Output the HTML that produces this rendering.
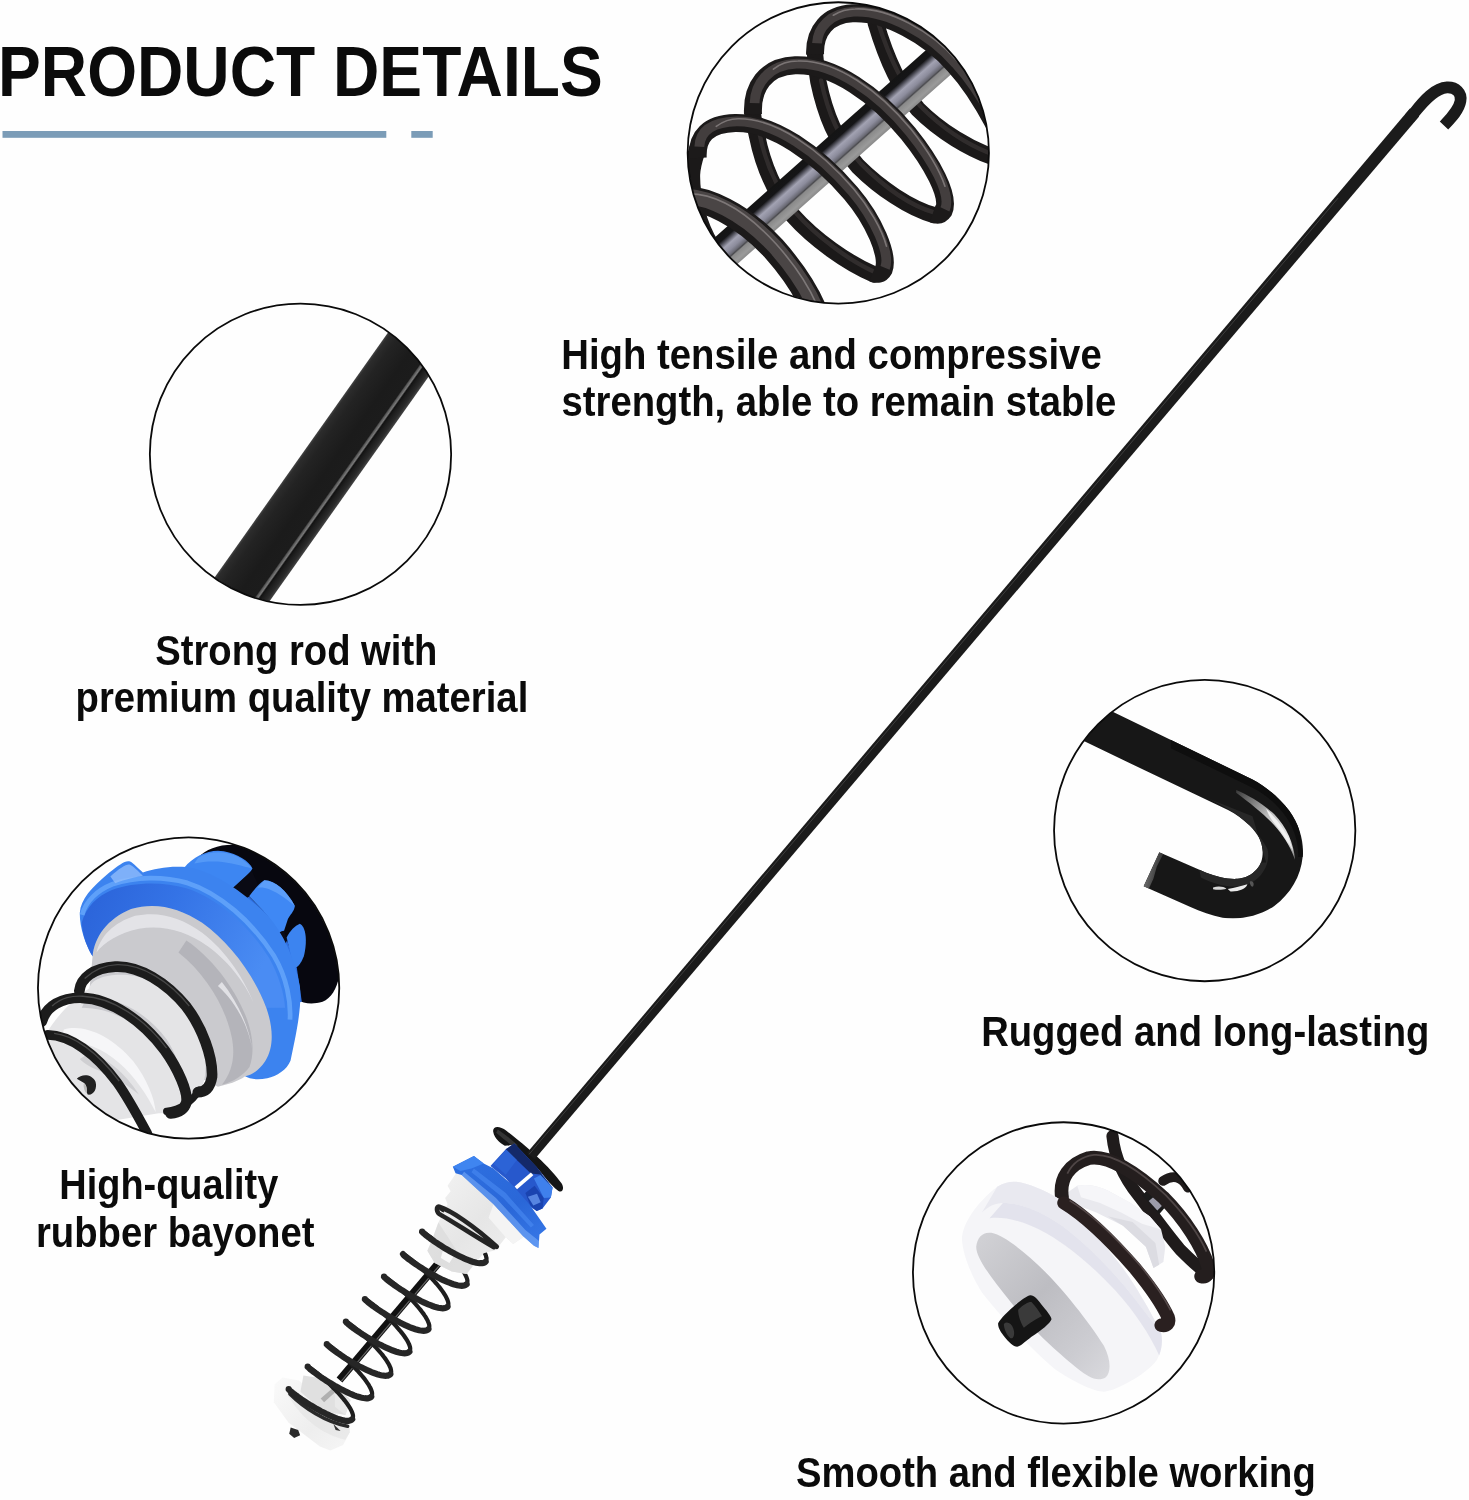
<!DOCTYPE html>
<html><head><meta charset="utf-8"><title>Product Details</title>
<style>
html,body{margin:0;padding:0;background:#fff}
svg{display:block}
text{font-family:"Liberation Sans",sans-serif;font-weight:bold;fill:#0b0b0b}
</style></head><body>
<svg width="1469" height="1500" viewBox="0 0 1469 1500">
<defs><clipPath id="c1clip"><circle cx="838.3" cy="152.9" r="150.4"/></clipPath><clipPath id="c2clip"><circle cx="300.5" cy="454.3" r="150.4"/></clipPath><clipPath id="c3clip"><circle cx="188.6" cy="988.0" r="150.4"/></clipPath><clipPath id="c4clip"><circle cx="1204.7" cy="830.6" r="150.4"/></clipPath><clipPath id="c5clip"><circle cx="1063.6" cy="1272.9" r="150.4"/></clipPath>

<linearGradient id="gWhiteCone" x1="0" y1="0" x2="1" y2="1"><stop offset="0" stop-color="#f4f4f4"/><stop offset="0.5" stop-color="#e6e6e6"/><stop offset="1" stop-color="#f0f0f0"/></linearGradient>
<linearGradient id="gFlange" x1="0.2" y1="0" x2="0.8" y2="1"><stop offset="0" stop-color="#2d6fe0"/><stop offset="0.6" stop-color="#2a67d8"/><stop offset="1" stop-color="#3576e6"/></linearGradient>
<linearGradient id="gCap" x1="0" y1="0" x2="1" y2="1"><stop offset="0" stop-color="#fafafa"/><stop offset="0.6" stop-color="#eeeeee"/><stop offset="1" stop-color="#f6f6f6"/></linearGradient>
<linearGradient id="gRodBig" x1="0" y1="0" x2="0" y2="1">
<stop offset="0" stop-color="#444"/><stop offset="0.04" stop-color="#2c2c2c"/><stop offset="0.18" stop-color="#232323"/><stop offset="0.5" stop-color="#1b1b1b"/><stop offset="0.755" stop-color="#1c1c1c"/><stop offset="0.775" stop-color="#565656"/><stop offset="0.805" stop-color="#7a7a7a"/><stop offset="0.83" stop-color="#121212"/><stop offset="0.87" stop-color="#1c1c1c"/><stop offset="0.95" stop-color="#2b2b2b"/><stop offset="1" stop-color="#444"/>
</linearGradient>
<linearGradient id="gHookHL" x1="0" y1="0" x2="1" y2="1"><stop offset="0" stop-color="#3a3a3a"/><stop offset="0.45" stop-color="#bdbdbd"/><stop offset="0.8" stop-color="#e8e8e8"/><stop offset="1" stop-color="#777"/></linearGradient>
<linearGradient id="gHookEnd" x1="0" y1="0" x2="1" y2="0.4"><stop offset="0" stop-color="#8a8a8a"/><stop offset="1" stop-color="#2a2a2a"/></linearGradient>
<linearGradient id="gRodC1" x1="0" y1="0" x2="0" y2="1"><stop offset="0" stop-color="#141414"/><stop offset="0.2" stop-color="#151517"/><stop offset="0.28" stop-color="#4e4e58"/><stop offset="0.4" stop-color="#a2a2b2"/><stop offset="0.55" stop-color="#8c8c9c"/><stop offset="0.66" stop-color="#6a6a74"/><stop offset="0.7" stop-color="#4a4a4e"/><stop offset="0.74" stop-color="#8a8a8a"/><stop offset="0.9" stop-color="#9a9a9a"/><stop offset="1" stop-color="#8a8a8a"/></linearGradient>
<linearGradient id="gCapIn" x1="0" y1="0" x2="1" y2="1"><stop offset="0" stop-color="#d2d2d6"/><stop offset="0.45" stop-color="#bdbdc2"/><stop offset="0.8" stop-color="#cdcdd2"/><stop offset="1" stop-color="#dadade"/></linearGradient>
<linearGradient id="gFlangeIn" x1="0" y1="0" x2="1" y2="0.3"><stop offset="0" stop-color="#2a62d8"/><stop offset="0.45" stop-color="#3473e6"/><stop offset="1" stop-color="#4a8cf3"/></linearGradient>
</defs>
<rect width="1469" height="1500" fill="#fefefe"/>
<rect x="2.5" y="131" width="383.8" height="6.8" fill="#7b9cb7"/>
<rect x="411.3" y="131" width="21.4" height="6.8" fill="#7b9cb7"/>
<g transform="translate(260,1260) scale(0.149762)">
<!-- white end cap -->
<path d="M150,785 L260,805 L600,1100 L600,1150 L555,1235 L470,1272 L400,1245 L190,1085 L92,950 L98,830 Z" fill="url(#gCap)"/>
<path d="M195,840 C300,980 450,1070 590,1080 L600,1150 L570,1200 C420,1170 260,1050 175,880 Z" fill="#dcdcdc" opacity="0.4"/>
<!-- inner grey block -->
<path d="M290,772 L470,800 L605,935 L570,1035 L420,1010 L270,880 Z" fill="#e0e0e0"/>
<path d="M405,925 L478,862 L500,885 L428,950 Z" fill="#b0b0b0"/>
<path d="M478,862 L600,935 L570,1035 L500,980 L500,885 Z" fill="#e9e9e9"/>
<!-- pin -->
<path d="M205,1118 L255,1135 L268,1170 L228,1188 L195,1160 Z" fill="#2b2b2b"/>
<path d="M490,1095 L538,1142 L505,1135 Z" fill="#333"/>
<!-- closed end coil second strand -->
<path d="M200,895 C290,985 440,1085 585,1110" fill="none" stroke="#2a2a2a" stroke-width="24" stroke-linecap="round"/>
</g>
<path d="M339.5,1380.0 L487.7,1205.0" stroke="#111" stroke-width="7.5" fill="none"/>
<path d="M341.2,1381.4 L489.4,1206.4" stroke="#666" stroke-width="1.2" fill="none"/>
<g fill="none" stroke="#1e1e1e" stroke-width="4.2" stroke-linecap="round"><path d="M352.2,1419.2 L352.6,1418.5 L352.9,1417.7 L353.0,1416.8 L353.0,1415.7 L352.8,1414.5 L352.4,1413.2 L351.9,1411.8 L351.2,1410.4 L350.4,1408.8 L349.4,1407.1 L348.3,1405.4 L347.0,1403.6 L345.7,1401.8 L344.2,1399.9 L342.7,1398.0 L341.0,1396.1 L339.3,1394.2 L337.5,1392.2 L335.7,1390.3 L333.8,1388.4 L331.9,1386.5 L330.0,1384.6 L328.1,1382.8 L326.3,1381.1 L324.4,1379.4 L322.6,1377.8 L320.8,1376.3 L319.1,1374.8 L317.5,1373.5 L316.0,1372.3 L314.6,1371.1 L313.3,1370.1 L312.1,1369.3 L311.0,1368.5 L310.1,1367.9 L309.3,1367.4 L308.7,1367.0 L308.2,1366.7 L307.9,1366.6 L307.7,1366.6"/><path d="M371.2,1396.7 L371.7,1396.0 L372.0,1395.2 L372.1,1394.2 L372.1,1393.2 L371.9,1392.0 L371.5,1390.7 L371.0,1389.3 L370.3,1387.8 L369.4,1386.3 L368.5,1384.6 L367.3,1382.9 L366.1,1381.1 L364.8,1379.3 L363.3,1377.4 L361.7,1375.5 L360.1,1373.6 L358.4,1371.6 L356.6,1369.7 L354.8,1367.8 L352.9,1365.8 L351.0,1364.0 L349.1,1362.1 L347.2,1360.3 L345.3,1358.6 L343.5,1356.9 L341.6,1355.3 L339.9,1353.7 L338.2,1352.3 L336.6,1351.0 L335.1,1349.8 L333.6,1348.6 L332.3,1347.6 L331.1,1346.7 L330.1,1346.0 L329.1,1345.3 L328.4,1344.8 L327.7,1344.5 L327.3,1344.2 L326.9,1344.1 L326.8,1344.1"/><path d="M390.3,1374.2 L390.8,1373.5 L391.1,1372.7 L391.2,1371.7 L391.1,1370.7 L390.9,1369.5 L390.6,1368.2 L390.0,1366.8 L389.3,1365.3 L388.5,1363.8 L387.5,1362.1 L386.4,1360.4 L385.2,1358.6 L383.8,1356.8 L382.4,1354.9 L380.8,1353.0 L379.2,1351.1 L377.4,1349.1 L375.7,1347.2 L373.8,1345.3 L372.0,1343.3 L370.1,1341.4 L368.2,1339.6 L366.3,1337.8 L364.4,1336.0 L362.5,1334.4 L360.7,1332.8 L359.0,1331.2 L357.3,1329.8 L355.6,1328.5 L354.1,1327.2 L352.7,1326.1 L351.4,1325.1 L350.2,1324.2 L349.1,1323.5 L348.2,1322.8 L347.4,1322.3 L346.8,1322.0 L346.3,1321.7 L346.0,1321.6 L345.9,1321.6"/><path d="M409.4,1351.7 L409.8,1351.0 L410.1,1350.2 L410.2,1349.2 L410.2,1348.2 L410.0,1347.0 L409.6,1345.7 L409.1,1344.3 L408.4,1342.8 L407.6,1341.2 L406.6,1339.6 L405.5,1337.9 L404.2,1336.1 L402.9,1334.3 L401.4,1332.4 L399.9,1330.5 L398.2,1328.6 L396.5,1326.6 L394.7,1324.7 L392.9,1322.7 L391.0,1320.8 L389.1,1318.9 L387.2,1317.1 L385.3,1315.3 L383.4,1313.5 L381.6,1311.9 L379.8,1310.2 L378.0,1308.7 L376.3,1307.3 L374.7,1306.0 L373.2,1304.7 L371.8,1303.6 L370.4,1302.6 L369.3,1301.7 L368.2,1301.0 L367.3,1300.3 L366.5,1299.8 L365.9,1299.4 L365.4,1299.2 L365.1,1299.1 L364.9,1299.1"/><path d="M428.4,1329.2 L428.9,1328.5 L429.2,1327.7 L429.3,1326.7 L429.3,1325.6 L429.1,1324.5 L428.7,1323.2 L428.1,1321.8 L427.5,1320.3 L426.6,1318.7 L425.7,1317.1 L424.5,1315.4 L423.3,1313.6 L421.9,1311.8 L420.5,1309.9 L418.9,1308.0 L417.3,1306.0 L415.6,1304.1 L413.8,1302.2 L412.0,1300.2 L410.1,1298.3 L408.2,1296.4 L406.3,1294.6 L404.4,1292.8 L402.5,1291.0 L400.7,1289.3 L398.8,1287.7 L397.1,1286.2 L395.4,1284.8 L393.8,1283.4 L392.2,1282.2 L390.8,1281.1 L389.5,1280.1 L388.3,1279.2 L387.3,1278.4 L386.3,1277.8 L385.6,1277.3 L384.9,1276.9 L384.4,1276.7 L384.1,1276.6 L384.0,1276.6"/><path d="M447.5,1306.7 L448.0,1306.0 L448.2,1305.1 L448.4,1304.2 L448.3,1303.1 L448.1,1301.9 L447.7,1300.7 L447.2,1299.3 L446.5,1297.8 L445.7,1296.2 L444.7,1294.6 L443.6,1292.9 L442.4,1291.1 L441.0,1289.2 L439.6,1287.4 L438.0,1285.5 L436.3,1283.5 L434.6,1281.6 L432.8,1279.7 L431.0,1277.7 L429.1,1275.8 L427.3,1273.9 L425.4,1272.1 L423.5,1270.3 L421.6,1268.5 L419.7,1266.8 L417.9,1265.2 L416.1,1263.7 L414.5,1262.3 L412.8,1260.9 L411.3,1259.7 L409.9,1258.6 L408.6,1257.6 L407.4,1256.7 L406.3,1255.9 L405.4,1255.3 L404.6,1254.8 L404.0,1254.4 L403.5,1254.2 L403.2,1254.1 L403.0,1254.1"/><path d="M466.6,1284.2 L467.0,1283.5 L467.3,1282.6 L467.4,1281.7 L467.4,1280.6 L467.2,1279.4 L466.8,1278.1 L466.3,1276.8 L465.6,1275.3 L464.8,1273.7 L463.8,1272.1 L462.7,1270.3 L461.4,1268.6 L460.1,1266.7 L458.6,1264.9 L457.1,1263.0 L455.4,1261.0 L453.7,1259.1 L451.9,1257.1 L450.1,1255.2 L448.2,1253.3 L446.3,1251.4 L444.4,1249.5 L442.5,1247.7 L440.6,1246.0 L438.8,1244.3 L437.0,1242.7 L435.2,1241.2 L433.5,1239.8 L431.9,1238.4 L430.4,1237.2 L429.0,1236.1 L427.6,1235.1 L426.4,1234.2 L425.4,1233.4 L424.5,1232.8 L423.7,1232.3 L423.0,1231.9 L422.6,1231.7 L422.3,1231.5 L422.1,1231.6"/><path d="M485.6,1261.7 L486.1,1261.0 L486.4,1260.1 L486.5,1259.2 L486.5,1258.1 L486.2,1256.9 L485.9,1255.6 L485.3,1254.2 L484.7,1252.8 L483.8,1251.2 L482.8,1249.5 L481.7,1247.8 L480.5,1246.1 L479.1,1244.2 L477.7,1242.3 L476.1,1240.4 L474.5,1238.5 L472.8,1236.6 L471.0,1234.6 L469.1,1232.7 L467.3,1230.8 L465.4,1228.9 L463.5,1227.0 L461.6,1225.2 L459.7,1223.5 L457.8,1221.8 L456.0,1220.2 L454.3,1218.7 L452.6,1217.2 L451.0,1215.9 L449.4,1214.7 L448.0,1213.6 L446.7,1212.6 L445.5,1211.7 L444.5,1210.9 L443.5,1210.3 L442.7,1209.8 L442.1,1209.4 L441.6,1209.1 L441.3,1209.0 L441.2,1209.0"/></g>
<g transform="translate(420,1100) scale(0.122532)">
<!-- white translucent cone -->
<path d="M300,590 L225,700 L250,745 L205,800 L225,850 L150,1000 L95,1150 L60,1230 L120,1330 L260,1400 L380,1420 L450,1330 L520,1250 L620,1225 L700,1120 L760,1175 L850,1115 L600,850 L340,610 Z" fill="url(#gWhiteCone)"/>
<path d="M150,1000 L95,1150 L60,1230 L120,1330 L260,1400 L380,1420 L450,1330 L300,1230 Z" fill="#dcdcdc" opacity="0.8"/>
<path d="M200,1180 L290,1250 L240,1330 L170,1290 Z" fill="#f8f8f8"/>
<path d="M600,850 L850,1115 L760,1175 L700,1120 L560,960 Z" fill="#f4f4f4"/>
</g>
<g fill="none" stroke="#262626" stroke-width="6.2" stroke-linecap="round"><path d="M288.7,1389.1 L288.7,1389.3 L288.9,1389.6 L289.2,1389.9 L289.7,1390.4 L290.4,1391.1 L291.3,1391.8 L292.3,1392.6 L293.4,1393.5 L294.8,1394.5 L296.2,1395.6 L297.8,1396.8 L299.5,1398.0 L301.3,1399.3 L303.3,1400.6 L305.3,1401.9 L307.4,1403.3 L309.6,1404.7 L311.9,1406.0 L314.2,1407.4 L316.5,1408.8 L318.9,1410.1 L321.3,1411.4 L323.7,1412.6 L326.0,1413.8 L328.4,1414.9 L330.6,1416.0 L332.9,1416.9 L335.1,1417.8 L337.1,1418.6 L339.1,1419.2 L341.0,1419.8 L342.8,1420.2 L344.5,1420.6 L346.0,1420.8 L347.4,1420.8 L348.7,1420.8 L349.8,1420.6 L350.8,1420.3 L351.5,1419.8 L352.2,1419.2"/><path d="M307.7,1366.6 L307.7,1366.8 L307.9,1367.0 L308.3,1367.4 L308.8,1367.9 L309.5,1368.6 L310.3,1369.3 L311.3,1370.1 L312.5,1371.0 L313.8,1372.0 L315.3,1373.1 L316.9,1374.3 L318.6,1375.5 L320.4,1376.8 L322.3,1378.1 L324.4,1379.4 L326.5,1380.8 L328.7,1382.2 L331.0,1383.5 L333.3,1384.9 L335.6,1386.3 L338.0,1387.6 L340.4,1388.9 L342.7,1390.1 L345.1,1391.3 L347.4,1392.4 L349.7,1393.5 L351.9,1394.4 L354.1,1395.3 L356.2,1396.1 L358.2,1396.7 L360.1,1397.3 L361.9,1397.7 L363.6,1398.0 L365.1,1398.2 L366.5,1398.3 L367.8,1398.3 L368.9,1398.1 L369.8,1397.8 L370.6,1397.3 L371.2,1396.7"/><path d="M326.8,1344.1 L326.8,1344.3 L327.0,1344.5 L327.3,1344.9 L327.9,1345.4 L328.6,1346.0 L329.4,1346.8 L330.4,1347.6 L331.6,1348.5 L332.9,1349.5 L334.3,1350.6 L335.9,1351.8 L337.6,1353.0 L339.5,1354.2 L341.4,1355.5 L343.4,1356.9 L345.6,1358.3 L347.8,1359.6 L350.0,1361.0 L352.3,1362.4 L354.7,1363.7 L357.0,1365.1 L359.4,1366.4 L361.8,1367.6 L364.2,1368.8 L366.5,1369.9 L368.8,1370.9 L371.0,1371.9 L373.2,1372.8 L375.3,1373.5 L377.3,1374.2 L379.2,1374.8 L381.0,1375.2 L382.6,1375.5 L384.2,1375.7 L385.6,1375.8 L386.8,1375.7 L387.9,1375.6 L388.9,1375.2 L389.7,1374.8 L390.3,1374.2"/><path d="M345.9,1321.6 L345.9,1321.7 L346.1,1322.0 L346.4,1322.4 L346.9,1322.9 L347.6,1323.5 L348.5,1324.3 L349.5,1325.1 L350.6,1326.0 L351.9,1327.0 L353.4,1328.1 L355.0,1329.2 L356.7,1330.5 L358.5,1331.7 L360.5,1333.0 L362.5,1334.4 L364.6,1335.7 L366.8,1337.1 L369.1,1338.5 L371.4,1339.9 L373.7,1341.2 L376.1,1342.6 L378.5,1343.9 L380.9,1345.1 L383.2,1346.3 L385.5,1347.4 L387.8,1348.4 L390.1,1349.4 L392.2,1350.3 L394.3,1351.0 L396.3,1351.7 L398.2,1352.3 L400.0,1352.7 L401.7,1353.0 L403.2,1353.2 L404.6,1353.3 L405.9,1353.2 L407.0,1353.0 L408.0,1352.7 L408.7,1352.3 L409.4,1351.7"/><path d="M364.9,1299.1 L364.9,1299.2 L365.1,1299.5 L365.5,1299.9 L366.0,1300.4 L366.7,1301.0 L367.5,1301.7 L368.5,1302.6 L369.7,1303.5 L371.0,1304.5 L372.5,1305.6 L374.1,1306.7 L375.8,1307.9 L377.6,1309.2 L379.5,1310.5 L381.6,1311.9 L383.7,1313.2 L385.9,1314.6 L388.1,1316.0 L390.5,1317.4 L392.8,1318.7 L395.2,1320.1 L397.5,1321.3 L399.9,1322.6 L402.3,1323.8 L404.6,1324.9 L406.9,1325.9 L409.1,1326.9 L411.3,1327.8 L413.4,1328.5 L415.4,1329.2 L417.3,1329.7 L419.1,1330.2 L420.8,1330.5 L422.3,1330.7 L423.7,1330.8 L425.0,1330.7 L426.1,1330.5 L427.0,1330.2 L427.8,1329.8 L428.4,1329.2"/><path d="M384.0,1276.6 L384.0,1276.7 L384.2,1277.0 L384.5,1277.4 L385.1,1277.9 L385.7,1278.5 L386.6,1279.2 L387.6,1280.1 L388.8,1281.0 L390.1,1282.0 L391.5,1283.1 L393.1,1284.2 L394.8,1285.4 L396.7,1286.7 L398.6,1288.0 L400.6,1289.4 L402.8,1290.7 L405.0,1292.1 L407.2,1293.5 L409.5,1294.9 L411.9,1296.2 L414.2,1297.5 L416.6,1298.8 L419.0,1300.1 L421.3,1301.3 L423.7,1302.4 L426.0,1303.4 L428.2,1304.4 L430.4,1305.2 L432.5,1306.0 L434.5,1306.7 L436.4,1307.2 L438.2,1307.7 L439.8,1308.0 L441.4,1308.2 L442.8,1308.3 L444.0,1308.2 L445.1,1308.0 L446.1,1307.7 L446.9,1307.3 L447.5,1306.7"/><path d="M403.0,1254.1 L403.1,1254.2 L403.3,1254.5 L403.6,1254.9 L404.1,1255.4 L404.8,1256.0 L405.7,1256.7 L406.7,1257.5 L407.8,1258.5 L409.1,1259.5 L410.6,1260.5 L412.2,1261.7 L413.9,1262.9 L415.7,1264.2 L417.7,1265.5 L419.7,1266.8 L421.8,1268.2 L424.0,1269.6 L426.3,1271.0 L428.6,1272.3 L430.9,1273.7 L433.3,1275.0 L435.7,1276.3 L438.0,1277.6 L440.4,1278.7 L442.7,1279.9 L445.0,1280.9 L447.3,1281.9 L449.4,1282.7 L451.5,1283.5 L453.5,1284.2 L455.4,1284.7 L457.2,1285.2 L458.9,1285.5 L460.4,1285.7 L461.8,1285.8 L463.1,1285.7 L464.2,1285.5 L465.1,1285.2 L465.9,1284.7 L466.6,1284.2"/><path d="M422.1,1231.6 L422.1,1231.7 L422.3,1232.0 L422.7,1232.4 L423.2,1232.9 L423.9,1233.5 L424.7,1234.2 L425.7,1235.0 L426.9,1235.9 L428.2,1237.0 L429.7,1238.0 L431.2,1239.2 L433.0,1240.4 L434.8,1241.7 L436.7,1243.0 L438.8,1244.3 L440.9,1245.7 L443.1,1247.1 L445.3,1248.5 L447.6,1249.8 L450.0,1251.2 L452.4,1252.5 L454.7,1253.8 L457.1,1255.0 L459.5,1256.2 L461.8,1257.3 L464.1,1258.4 L466.3,1259.3 L468.5,1260.2 L470.6,1261.0 L472.6,1261.7 L474.5,1262.2 L476.3,1262.7 L478.0,1263.0 L479.5,1263.2 L480.9,1263.2 L482.2,1263.2 L483.3,1263.0 L484.2,1262.7 L485.0,1262.2 L485.6,1261.7"/></g><g transform="translate(400,1190) scale(0.081688)"><path d="M1185,695 C900,430 620,250 480,205 C440,195 440,280 500,305 C640,380 900,560 1150,700" fill="none" stroke="#242424" stroke-width="56" stroke-linecap="round" stroke-linejoin="round"/></g>
<g transform="translate(420,1100) scale(0.122532)">
<!-- black disc -->
<path d="M598,262 C588,212 645,205 705,250 C860,370 1060,540 1155,680 C1180,720 1165,760 1130,742 C1060,690 1000,600 950,550 L745,368 L692,374 C650,350 606,310 598,262 Z" fill="#151515"/>
<path d="M635,240 C700,285 760,335 800,372 L748,372 C705,335 655,298 622,268 Z" fill="#3c3c3c" opacity="0.8"/>
<!-- blue body -->
<path d="M575,538 L700,402 L770,356 L950,545 L1082,715 L1068,795 L1000,885 L955,905 L880,860 L700,640 Z" fill="#2758cc"/>
<path d="M700,402 L770,356 L950,545 L1000,610 L905,600 L790,490 Z" fill="#14296a"/>
<path d="M600,520 L705,405 L790,490 L700,610 Z" fill="#2c63d6"/>
<path d="M930,640 L985,612 L1082,715 L1068,795 L1010,800 Z" fill="#3f80ec"/>
<path d="M985,612 L950,560 L1082,715 Z" fill="#16306e"/>
<path d="M860,760 L935,700 L1010,800 L1000,885 L950,905 L900,860 Z" fill="#1a43b0"/>
<path d="M880,790 L955,765 L985,835 L925,860 Z" fill="#6b99f2" opacity="0.75"/>
<path d="M772,705 L905,592 L925,615 L792,728 Z" fill="#ffffff"/>
<!-- flange -->
<path d="M268,545 L440,458 L520,518 L600,560 L760,700 L900,860 L1032,1050 L975,1097 L967,1208 L930,1190 L840,1110 L600,850 L340,612 L290,598 Z" fill="url(#gFlange)"/>
<path d="M268,545 L440,458 L520,518 L420,560 L330,580 Z" fill="#3f85f0"/>
<path d="M340,612 L600,850 L840,1110 L930,1190 L967,1208 L972,1150 L860,1060 L620,800 L360,585 Z" fill="#7fb0fa" opacity="0.55"/>
<path d="M440,560 L700,760 L930,1020 L905,1040 L680,800 L420,590 Z" fill="#4a8af2" opacity="0.6"/>
</g>
<path d="M527.1,1152.8 L1409.9,108.6 L1419.1,116.4 L534.6,1159.2 Z" fill="#1b1b1b"/><path d="M1409.3,118.6 L1414.5,112.5 C1424,100.5 1435,88 1447,87.4 C1456,87 1462,93 1460.5,101 C1459,110 1451,118 1444,125.5" fill="none" stroke="#1b1b1b" stroke-width="11.6" stroke-linejoin="round"/><path d="M529.0,1154.4 L1338.1,198.1" fill="none" stroke="#555" stroke-width="1" opacity="0.6"/>
<g clip-path="url(#c1clip)"><g transform="translate(640,0) scale(0.272294)" fill="none" stroke-linecap="round">
<!-- back strands -->
<g stroke="#1b1919" stroke-width="60">
<path d="M1320,585 C1210,550 1100,480 1020,400 C950,320 900,200 866,85"/>
<path d="M1080,790 C990,765 880,690 800,610 C720,520 680,420 655,300 C648,260 645,230 643,200"/>
<path d="M860,1008 C760,965 640,880 560,790 C490,700 450,600 430,500 C422,465 417,440 415,420"/>
<path d="M260,900 C215,830 188,720 190,640 C192,600 205,570 212,545" stroke-width="62"/>
</g>
<g stroke="#3a3636" stroke-width="16" opacity="0.7">
<path d="M1320,575 C1210,540 1110,470 1030,390 C960,310 910,195 875,85"/>
<path d="M1080,780 C990,755 890,680 810,600 C730,510 690,415 665,295"/>
<path d="M860,998 C765,955 650,870 570,780 C500,690 460,595 440,495"/>
</g>
<!-- rod -->
<g transform="translate(440,811) rotate(-41.6)">
<rect x="-500" y="-64" width="1390" height="128" fill="url(#gRodC1)" stroke="none"/>
</g>
<!-- front strands -->
<g stroke="#1c1a1a" stroke-width="66" stroke-linecap="butt">
<path d="M643,200 C640,112 690,54 780,49 C900,43 1060,130 1155,240 C1215,305 1255,370 1300,455"/>
<path d="M415,420 C410,320 460,245 570,240 C710,235 870,350 985,490 C1070,595 1140,720 1115,775 C1105,790 1090,790 1075,785"/>
<path d="M212,580 C208,500 250,455 350,452 C490,450 650,565 775,710 C860,810 915,940 895,990 C885,1008 870,1008 855,1002"/>
<path d="M130,728 C240,718 380,792 490,912 C570,1002 620,1082 650,1162" stroke-width="92"/>
</g>
<g stroke="#433e3e" stroke-width="36" transform="translate(5,-6)" stroke-linecap="butt">
<path d="M645,165 C648,108 692,54 780,49 C900,43 1060,130 1155,240 C1215,305 1255,370 1300,455"/>
<path d="M416,385 C418,318 462,245 570,240 C710,235 870,350 985,490 C1070,595 1140,720 1115,775"/>
<path d="M213,545 C215,492 252,455 350,452 C490,450 650,565 775,710 C860,810 915,940 895,990"/>
<path d="M130,728 C240,718 380,792 490,912 C570,1002 620,1082 650,1162" stroke-width="56" stroke="#4a4545"/>
</g>
<g stroke="#8a8484" stroke-width="6" opacity="0.8" transform="translate(10,-16)">
<path d="M700,72 C730,54 760,49 780,49 C900,43 1060,130 1155,240"/>
<path d="M480,270 C510,245 540,240 570,240 C710,235 870,350 985,490 C1040,560 1090,640 1110,700"/>
<path d="M270,480 C300,458 320,452 350,452 C490,450 650,565 775,710 C830,775 880,860 895,920"/>
<path d="M170,728 C270,728 380,792 490,912 C570,1002 620,1082 650,1162"/>
</g>
</g>
</g>
<circle cx="838.3" cy="152.9" r="150.65" fill="none" stroke="#0a0a0a" stroke-width="1.8"/>
<g clip-path="url(#c2clip)"><g transform="translate(337.2,455) rotate(-54.7)">
<rect x="-320" y="-29.3" width="640" height="58.6" fill="url(#gRodBig)"/>
</g>
</g>
<circle cx="300.5" cy="454.3" r="150.65" fill="none" stroke="#0a0a0a" stroke-width="1.8"/>
<g clip-path="url(#c3clip)"><g transform="translate(60,830) scale(0.197413)">
<!-- black disc -->
<path d="M700,140 C760,70 900,50 1040,110 C1220,200 1360,400 1415,620 C1430,740 1400,840 1330,870 C1280,885 1235,880 1200,860 L1100,500 Z" fill="#07070f"/>
<!-- blue body behind tabs -->
<path d="M800,250 L960,340 L1070,450 L1150,560 L1200,700 L1225,870 L1100,900 L900,500 Z" fill="#2f6fe0"/>
<!-- tabs -->
<path d="M628,192 C680,130 760,95 830,108 C900,120 960,160 975,195 C960,225 900,275 865,305 L760,330 Z" fill="#3d86f2"/>
<path d="M700,140 C760,105 830,105 890,130 C930,150 960,175 972,195 C930,185 860,165 800,160 C760,158 720,160 680,170 Z" fill="#5a9df8" opacity="0.8"/>
<path d="M868,300 L972,205 C985,235 1000,270 1012,300 L960,335 L935,352 Z" fill="#0a0a14"/>
<path d="M958,335 C985,300 1010,270 1035,255 C1090,255 1150,310 1190,385 C1185,415 1165,430 1155,450 L1135,510 L1100,522 C1085,480 1060,440 1030,410 Z" fill="#3f88f4"/>
<path d="M1035,255 C1090,255 1150,310 1190,385 C1160,360 1110,320 1060,300 C1040,292 1020,290 1000,292 Z" fill="#62a2f9" opacity="0.85"/>
<path d="M1100,522 L1135,510 L1150,560 L1135,590 Z" fill="#0b0b16"/>
<path d="M1148,545 C1165,510 1190,485 1215,475 C1245,490 1255,560 1235,640 C1220,680 1200,700 1185,700 Z" fill="#3c84f0"/>
<!-- flange outer -->
<path d="M100,420 C105,350 160,290 250,215 C300,175 335,150 355,160 C375,170 395,195 420,215 C480,195 560,180 640,188 C760,205 900,290 1050,430 C1130,520 1190,650 1215,790 C1228,900 1190,1060 1168,1168 C1150,1215 1098,1248 1050,1258 C1000,1268 960,1262 938,1248 L600,800 L165,640 C130,580 100,500 100,420 Z" fill="#3c83ef"/>
<!-- flange inner concave band -->
<path d="M110,470 C130,390 190,335 260,305 C380,262 520,262 640,295 C800,345 960,490 1060,650 C1110,740 1135,830 1140,900 L1045,900 C980,730 860,570 720,470 C600,390 480,365 360,400 C240,450 175,540 165,640 C140,600 115,540 110,470 Z" fill="url(#gFlangeIn)"/>
<!-- ridge highlight -->
<path d="M112,430 C130,360 190,305 265,275 C385,235 525,235 645,268 C805,318 975,465 1085,640 C1150,750 1170,870 1165,960" fill="none" stroke="#62a3fa" stroke-width="24" opacity="0.9"/>
<path d="M255,235 C300,195 335,172 352,175 C372,183 395,208 420,232 C390,238 330,250 280,270 Z" fill="#8fbcfb" opacity="0.8"/>
<!-- white cone dome -->
<path d="M165,640 C175,540 240,450 360,400 C480,365 600,390 720,470 C860,570 980,730 1045,900 C1080,1000 1085,1100 1040,1170 C1010,1215 975,1240 938,1248 C900,1275 850,1290 800,1300 L400,1100 L150,800 Z" fill="#cacace"/>
<path d="M185,620 C205,540 270,470 380,435 C500,410 610,440 720,520 C840,610 940,760 990,900 C950,790 860,670 750,590 C640,510 520,480 400,500 C300,520 220,570 185,620 Z" fill="#e6e6ea" opacity="0.9"/>
<path d="M640,560 C760,640 880,790 940,940 C980,1040 985,1130 960,1200 C930,1240 880,1275 820,1290 C870,1230 890,1150 870,1050 C840,900 740,730 600,620 Z" fill="#b0b0b6" opacity="0.85"/>
<path d="M820,770 C900,870 960,1000 975,1120 C960,1010 900,880 800,790 Z" fill="#e6e6ea" opacity="0.9"/>
<!-- neck / inner white -->
<path d="M150,800 C160,750 260,720 380,740 C520,770 660,900 720,1080 C750,1180 740,1290 700,1330 C640,1400 560,1440 500,1435 L100,1500 L-100,1100 C-60,980 60,860 150,800 Z" fill="#e4e4e6"/>
<path d="M130,860 C250,830 420,900 540,1060 C600,1150 630,1260 615,1350 C590,1250 540,1140 450,1050 C350,950 230,900 110,900 Z" fill="#c9c9cd"/>
<path d="M20,1010 C120,980 260,1040 370,1170 C440,1260 480,1360 485,1430 C440,1340 380,1250 300,1180 C210,1100 100,1060 0,1070 Z" fill="#f6f6f8"/>
<path d="M150,1130 C230,1150 330,1230 400,1340 C350,1300 280,1250 200,1220 C150,1200 120,1180 100,1160 Z" fill="#cfcfd2"/>
<!-- lower shadow under coil1 -->
<path d="M705,1318 C670,1375 610,1418 540,1425" fill="none" stroke="#1a1a1a" stroke-width="36" stroke-linecap="round"/>
<!-- coils -->
<g fill="none" stroke="#1c1c1c" stroke-linecap="round">
<path d="M98,815 C105,750 170,698 280,692 C400,686 540,772 640,895 C720,1000 775,1150 770,1250 C760,1310 730,1328 698,1328" stroke-width="54"/>
<path d="M-92,970 C-70,892 10,848 110,850 C260,854 420,968 530,1115 C600,1212 650,1330 640,1380 C630,1415 600,1432 560,1436" stroke-width="54"/>
<path d="M-62,1038 C50,1040 180,1130 290,1280 C350,1365 400,1460 443,1540" stroke-width="50"/>
</g>
<g fill="none" stroke="#5a5a5a" stroke-width="7" opacity="0.7">
<path d="M125,752 C175,706 235,684 290,682 C415,678 555,768 655,892"/>
<path d="M-40,892 C10,847 60,840 115,842 C265,846 430,958 540,1105"/>
<path d="M-30,1030 C70,1040 190,1125 300,1272"/>
</g>
<!-- hook end -->
<path d="M85,1260 C110,1235 160,1235 180,1275 C190,1310 170,1345 140,1340 C130,1320 140,1290 120,1280 Z" fill="#222"/>
<path d="M120,1285 C135,1290 140,1315 135,1335 C125,1325 118,1305 120,1285 Z" fill="#bbb"/>
</g>
</g>
<circle cx="188.6" cy="988.0" r="150.65" fill="none" stroke="#0a0a0a" stroke-width="1.8"/>
<g clip-path="url(#c4clip)"><g transform="translate(1130,740) scale(0.136147)">
<clipPath id="hookTube"><path d="M-400,-340 L900,290 C1000,340 1100,430 1170,520 C1250,630 1280,760 1268,860 C1255,1000 1180,1130 1060,1220 C950,1295 800,1325 680,1305 C600,1290 520,1260 440,1225 L100,1075 L215,825 L560,975 C640,1005 720,1025 790,1020 C880,1012 960,950 972,860 C985,760 940,690 880,630 C830,585 780,545 720,515 L0,170 L-400,-22 Z"/></clipPath>
<g clip-path="url(#hookTube)">
<rect x="-400" y="-400" width="1800" height="1800" fill="#171717"/>
<path d="M500,400 C760,500 930,640 1010,800 C1040,920 950,1060 800,1075 C700,1085 600,1050 520,1010 L500,900 L1000,900 L900,560 Z" fill="#272727"/>
<path d="M300,60 L900,350 C1000,400 1090,480 1150,570 C1215,670 1240,770 1235,860 L1275,860 L1200,400 L900,250 L300,-30 Z" fill="#0e0e0e"/>
<path d="M780,368 C860,400 970,465 1060,545 C1150,640 1205,760 1212,880 C1190,810 1140,720 1085,655 C1010,565 890,470 780,388 Z" fill="url(#gHookHL)"/>
<path d="M1000,505 C1090,585 1170,700 1200,820 C1165,750 1115,675 1060,612 C1035,580 1015,545 1000,505 Z" fill="#f4f4f4" opacity="0.9"/>
<path d="M610,1084 C650,1070 690,1078 708,1092 C680,1102 640,1102 610,1096 Z" fill="#d8d8d8"/>
<path d="M718,1094 C770,1086 820,1070 862,1060 C852,1096 800,1114 738,1112 Z" fill="#ececec"/>
<path d="M880,1040 C900,1030 915,1050 905,1075 C895,1085 880,1070 880,1040 Z" fill="#555"/>
<path d="M215,825 L100,1075 L138,1092 L172,1020 L197,930 L244,838 Z" fill="url(#gHookEnd)"/>
</g>
</g>
</g>
<circle cx="1204.7" cy="830.6" r="150.65" fill="none" stroke="#0a0a0a" stroke-width="1.8"/>
<g clip-path="url(#c5clip)"><g transform="translate(940,1140) scale(0.190606)">
<!-- far coil bits -->
<g fill="none" stroke="#1f1b1b" stroke-linecap="round">
<path d="M905,-20 C915,80 960,190 1040,290 C1110,380 1180,480 1260,575 C1320,635 1370,680 1405,705" stroke-width="64"/>
<path d="M1170,215 C1220,180 1270,190 1300,250" stroke-width="50"/>
</g>
<!-- rod bit -->
<path d="M1060,290 L1120,235 L1200,330 L1150,390 Z" fill="#1a1a1a"/>
<path d="M1095,320 L1125,295 L1165,345 L1140,370 Z" fill="#9c9caa"/>
<!-- coil A back (inner lower arc) -->

<!-- neck block -->
<path d="M640,295 L720,240 C770,230 830,240 880,265 L1000,330 L1100,400 L1160,470 L1182,560 L1172,640 L1120,672 L1080,560 L960,450 L820,380 L700,335 Z" fill="#e9e9ee"/>
<path d="M720,240 C770,230 830,240 880,265 L1000,330 L1100,400 L1160,470 L1060,440 L950,380 L840,330 L740,300 Z" fill="#f6f6f9"/>
<path d="M880,400 L960,450 L1080,560 L1120,672 L1150,655 L1130,540 L1010,430 Z" fill="#dcdce2"/>
<!-- coil A front -->
<path d="M640,300 C625,200 680,125 780,95 C880,75 1030,170 1170,300 C1280,410 1380,560 1408,670 C1412,705 1395,722 1370,715" fill="none" stroke="#241e1e" stroke-width="72" stroke-linecap="round"/>
<path d="M660,190 C690,130 740,100 800,92 C900,85 1040,175 1175,302 C1270,400 1350,510 1390,600" fill="none" stroke="#5a5050" stroke-width="9" opacity="0.8" transform="translate(8,-14)"/>
<!-- cap body -->
<path d="M115,520 C118,440 190,330 300,245 C340,220 380,215 420,222 C500,240 580,280 640,320 C760,420 870,560 950,660 C1010,740 1090,870 1160,1010 C1170,1060 1165,1100 1140,1150 C1110,1200 1010,1265 950,1290 C910,1310 870,1322 850,1320 C800,1315 700,1270 600,1200 C520,1130 380,1000 220,800 C170,720 120,610 115,520 Z" fill="#f5f5f8"/>
<path d="M300,245 C340,220 380,215 420,222 C500,240 580,280 640,320 C760,420 870,560 950,660 C1010,740 1090,870 1160,1010 C1120,960 1060,880 980,780 C880,660 760,540 640,450 C540,380 430,330 330,330 C290,330 250,350 220,380 Z" fill="#e9e9f0"/>
<path d="M330,330 C430,330 540,380 640,450 C760,540 880,660 980,780 C1060,880 1120,960 1160,1010 C1168,1050 1165,1090 1150,1130 C1100,1020 1020,900 920,790 C800,660 680,560 560,490 C450,430 350,400 260,410 Z" fill="#dfdfea" opacity="0.8"/>
<!-- opening -->
<path d="M190,560 C195,510 225,480 270,487 C340,500 460,600 560,700 C640,780 780,950 860,1080 C895,1150 900,1215 870,1245 C845,1262 810,1258 780,1240 C720,1205 600,1100 500,1000 C420,915 330,800 270,720 C220,650 190,600 190,560 Z" fill="url(#gCapIn)"/>
<!-- coil B -->
<path d="M650,330 C750,390 885,515 1025,675 C1095,760 1165,860 1197,930 C1207,962 1190,978 1160,972" fill="none" stroke="#2a2020" stroke-width="70" stroke-linecap="round"/>
<path d="M670,332 C770,392 900,512 1040,672 C1105,752 1165,840 1200,908" fill="none" stroke="#6a5c5c" stroke-width="8" opacity="0.7" transform="translate(10,-14)"/>
<!-- pin -->
<path d="M305,962 C315,940 360,895 400,862 C430,838 455,818 475,815 C495,815 510,835 530,860 C555,890 585,925 585,940 C580,960 530,1000 480,1032 C450,1055 425,1080 405,1085 C385,1085 360,1060 340,1035 C320,1010 303,985 305,962 Z" fill="#151515"/>
<path d="M410,890 C440,862 465,848 480,850 C500,870 520,900 535,925 C510,935 470,960 440,985 C425,960 410,925 410,890 Z" fill="#3a3a3a"/>
<path d="M335,965 C350,950 375,960 385,990 C395,1020 385,1045 370,1040 C350,1025 335,990 335,965 Z" fill="#4a4a4a" opacity="0.7"/>
</g>
</g>
<circle cx="1063.6" cy="1272.9" r="150.65" fill="none" stroke="#0a0a0a" stroke-width="1.8"/>

<g opacity="0.999"><text transform="translate(-1.98,95.8) scale(0.9011,1)" font-size="71.2">PRODUCT DETAILS</text>
<text transform="translate(561.33,368.8) scale(0.8905,1)" font-size="43.0">High tensile and compressive</text>
<text transform="translate(561.57,415.6) scale(0.8897,1)" font-size="43.0">strength, able to remain stable</text>
<text transform="translate(155.29,665.1) scale(0.8886,1)" font-size="43.0">Strong rod with</text>
<text transform="translate(75.55,712.2) scale(0.8896,1)" font-size="43.0">premium quality material</text>
<text transform="translate(59.36,1199.3) scale(0.8815,1)" font-size="43.0">High-quality</text>
<text transform="translate(35.95,1246.8) scale(0.8901,1)" font-size="43.0">rubber bayonet</text>
<text transform="translate(981.13,1045.5) scale(0.8895,1)" font-size="43.0">Rugged and long-lasting</text>
<text transform="translate(796.09,1487.4) scale(0.8879,1)" font-size="43.0">Smooth and flexible working</text>
</g>
</svg>
</body></html>
